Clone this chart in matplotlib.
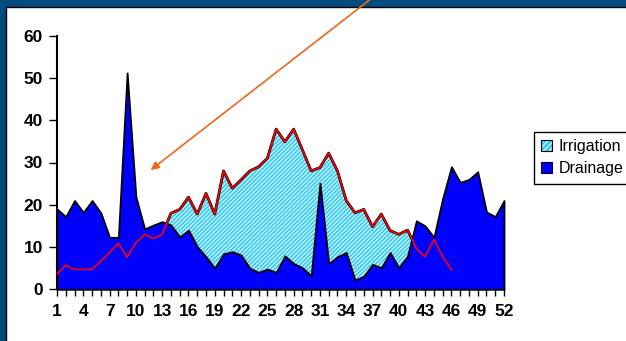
import matplotlib.pyplot as plt
from matplotlib.patches import Rectangle, Patch
from matplotlib.legend_handler import HandlerTuple

# weekly values
weeks = list(range(1, 53))
drainage = [19.0, 17.2, 21.0, 18.2, 21.0, 18.1, 12.3, 12.3, 51.2, 21.9,
            14.3, 15.2, 16.0, 15.2, 12.4, 14.0, 10.1, 7.7, 5.0, 8.4,
            8.9, 8.1, 5.0, 4.0, 4.8, 4.0, 7.9, 6.1, 5.1, 3.2,
            25.1, 6.1, 7.7, 8.7, 2.2, 3.1, 5.9, 5.1, 8.7, 5.1,
            7.9, 16.2, 15.0, 12.3, 21.5, 29.0, 25.3, 26.0, 27.8, 18.3,
            17.2, 21.0]
irrigation = [3.6, 5.7, 4.7, 4.7, 4.7, 6.7, 8.7, 10.9, 7.6, 11.0,
              13.0, 12.0, 13.0, 18.0, 18.9, 21.8, 17.8, 22.7, 17.8, 28.0,
              23.9, 25.9, 28.0, 29.0, 31.0, 37.9, 34.9, 37.9, 33.0, 28.0,
              28.8, 32.2, 28.0, 21.0, 18.1, 18.9, 14.8, 17.8, 13.9, 13.0,
              14.0, 9.7, 7.7, 11.8, 7.7, 4.6]
irr_weeks = weeks[:len(irrigation)]

W, H = 626, 341
border = '#014c7c'
cyan = '#35c9ee'
hatch_col = '#c4f2ff'

fig = plt.figure(figsize=(W / 100, H / 100), dpi=100, facecolor=border)

# white panel inside the dark blue frame
fig.patches.append(Rectangle((6 / W, -0.1), 1.0, (H - 6.5) / H + 0.1,
                             transform=fig.transFigure, facecolor='white',
                             edgecolor='black', lw=1, zorder=-5))

ax = fig.add_axes([57 / W, 51.7 / H, 447 / W, 253.6 / H])
ax.set_facecolor('none')

# irrigation area (hatched cyan), drawn behind drainage
ax.fill_between(irr_weeks, irrigation, 0, facecolor=cyan, edgecolor=hatch_col,
                hatch='////////', lw=0, zorder=1)
ax.plot(irr_weeks, irrigation, color='black', lw=2.0, zorder=2)

# drainage area
ax.fill_between(weeks, drainage, 0, facecolor='#0000ff', edgecolor='black',
                lw=1.3, zorder=3, clip_on=False)

# red line over the top
ax.plot(irr_weeks, irrigation, color='#ff0000', lw=1.2, zorder=4)

ax.set_xlim(1, 52)
ax.set_ylim(0, 60)
ax.set_xticks(weeks[::3])
ax.set_xticks(weeks, minor=True)
ax.set_yticks(range(0, 61, 10))
ax.tick_params(axis='x', which='both', length=5, width=1, direction='out', pad=5.5,
               labelsize=12.5)
ax.tick_params(axis='y', length=6, width=1, direction='out', pad=4, labelsize=12.5)
for lbl in ax.get_xticklabels() + ax.get_yticklabels():
    lbl.set_fontweight('bold')
    lbl.set_fontfamily('Liberation Sans')

for s in ['top', 'right']:
    ax.spines[s].set_visible(False)
for s in ['left', 'bottom']:
    ax.spines[s].set_linewidth(1.5)

# legend with hatched patch plus black outline
irr_handle = (Patch(facecolor=cyan, edgecolor=hatch_col, hatch='//////', lw=0),
              Patch(facecolor='none', edgecolor='black', lw=0.8))
dr_handle = Patch(facecolor='#0000ff', edgecolor='black', lw=0.8)
leg = fig.legend([irr_handle, dr_handle], ['Irrigation', 'Drainage'],
                 handler_map={tuple: HandlerTuple(ndivide=1, pad=0)},
                 loc='upper left', bbox_to_anchor=(534 / W, (H - 132) / H),
                 prop={'family': 'Liberation Sans', 'size': 11.5},
                 frameon=True, fancybox=False, edgecolor='black',
                 framealpha=1, handlelength=0.7, handleheight=0.7,
                 handletextpad=0.4, labelspacing=0.45, borderpad=0.45,
                 borderaxespad=0)
leg.get_frame().set_linewidth(1)

# orange arrow from the top of the picture
ax.annotate('', xy=(150.7, H - 170), xycoords='figure pixels',
            xytext=(372, H + 2), textcoords='figure pixels',
            arrowprops=dict(arrowstyle='-|>', color='#f0651e', lw=1.2,
                            mutation_scale=12, shrinkA=0, shrinkB=0),
            annotation_clip=False)

fig.savefig('out.png', dpi=100, facecolor=border)
